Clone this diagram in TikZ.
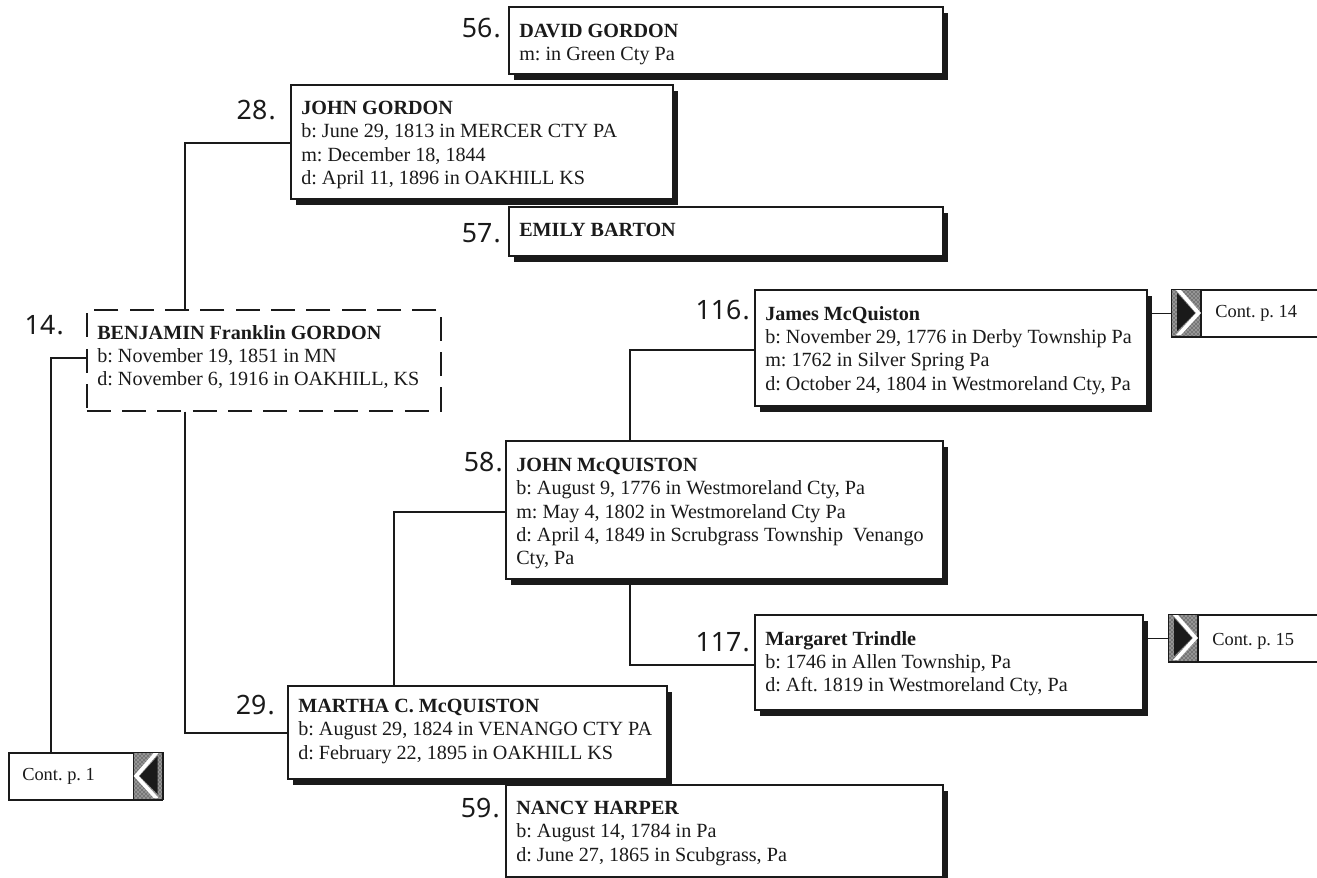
\documentclass[tikz,border=0pt]{standalone}
\usepackage{fontspec}
\setmainfont{Liberation Serif}
\newfontfamily\numfont{Noto Sans}
\newcommand{\nm}[1]{{\bfseries #1}}
\usetikzlibrary{shadows,patterns}
\definecolor{ink}{HTML}{1A1A1A}
\tikzset{
  x=0.75pt,y=-0.75pt,
  wire/.style={draw=ink,line width=1.1pt},
  person/.style={draw=ink,fill=white,line width=1.5pt,anchor=north west,align=left,
    inner xsep=0pt,inner ysep=0pt,
    drop shadow={shadow xshift=4pt,shadow yshift=-4.5pt,fill=ink,opacity=1}},
  dashbox/.style={draw=ink,fill=white,line width=1.2pt,dash pattern=on 18pt off 8.5pt,anchor=north west,
    minimum width=265.5pt,minimum height=75.75pt,inner sep=0pt},
  contbox/.style={draw=ink,fill=white,line width=1.4pt,anchor=north west,inner sep=0pt},
  icon/.style={draw=ink,preaction={fill=ink!60},pattern=crosshatch dots,pattern color=white,line width=1pt,anchor=north west,inner sep=0pt,minimum width=22pt,minimum height=35pt},
  num/.style={font=\numfont\fontsize{20pt}{21pt}\selectfont,text=ink,anchor=east,inner sep=0pt},
  txt/.style={anchor=north west,align=left,inner sep=0pt,text=ink,font=\fontsize{15.1pt}{17.5pt}\selectfont\frenchspacing},
  cont/.style={anchor=west,inner sep=0pt,text=ink,font=\fontsize{13.8pt}{16pt}\selectfont\frenchspacing}
}
\newcommand{\pbox}[7][17]{% offset,name,x0,y0,w,h,text
  \node[person,minimum width=#5*0.75pt,minimum height=#6*0.75pt] (#2) at (#3,#4) {};
  \node[txt] (#2t) at (#3+11,#4+#1) {#7};
}
\newcommand{\gnum}[1]{#1\kern1pt{\bfseries .}}
\begin{document}
\begin{tikzpicture}
\useasboundingbox[fill=white] (0,0) rectangle (1317,878);

\pbox[18]{b56}{508}{6}{434}{67}{\nm{DAVID GORDON}\\m: in Green Cty Pa}
\pbox{b57}{508}{206}{434}{49}{\nm{EMILY BARTON}}
\pbox{b28}{290}{84}{382}{114}{\nm{JOHN GORDON}\\b: June 29, 1813 in MERCER CTY PA\\m: December 18, 1844\\d: April 11, 1896 in OAKHILL KS}
\pbox{b116}{754}{289}{392}{116}{\nm{James McQuiston}\\b: November 29, 1776 in Derby Township Pa\\m: 1762 in Silver Spring Pa\\d: October 24, 1804 in Westmoreland Cty, Pa}
\pbox[18]{b58}{505}{440}{437}{138}{\nm{JOHN McQUISTON}\\b: August 9, 1776 in Westmoreland Cty, Pa\\m: May 4, 1802 in Westmoreland Cty Pa\\d: April 4, 1849 in Scrubgrass Township\ \ Venango\\Cty, Pa}
\pbox{b117}{754}{614}{388}{95}{\nm{Margaret Trindle}\\b: 1746 in Allen Township, Pa\\d: Aft. 1819 in Westmoreland Cty, Pa}
\pbox[14]{b29}{287}{685}{379}{93}{\nm{MARTHA C. McQUISTON}\\b: August 29, 1824 in VENANGO CTY PA\\d: February 22, 1895 in OAKHILL KS}
\pbox{b59}{505}{784}{437}{92}{\nm{NANCY HARPER}\\b: August 14, 1784 in Pa\\d: June 27, 1865 in Scubgrass, Pa}

\node[dashbox] (b14) at (86,309) {};
\node[txt] (b14t) at (97,325) {\nm{BENJAMIN Franklin GORDON}\\b: November 19, 1851 in MN\\d: November 6, 1916 in OAKHILL, KS};

% continuation boxes
\node[contbox,minimum width=109.5pt,minimum height=35pt] (c14) at (1171,289) {};
\node[contbox,minimum width=112pt,minimum height=35pt] (c15) at (1168,614) {};
\node[contbox,minimum width=115pt,minimum height=35pt] (c1) at (8,752) {};
\node[icon] (i14) at (1171,289) {};
\node[icon] (i15) at (1168,614) {};
\node[icon] (i1) at (133,752) {};
\fill[white] (i14.north west) ++(5,1) -- ++(5,0) -- ++(20,23) -- ++(-20,22) -- ++(-5,0) -- ++(20,-22) -- cycle;
\fill[ink] (i14.north west) ++(6,4) -- ++(18,20) -- ++(-18,18) -- cycle;
\fill[white] (i15.north west) ++(5,1) -- ++(5,0) -- ++(20,23) -- ++(-20,22) -- ++(-5,0) -- ++(20,-22) -- cycle;
\fill[ink] (i15.north west) ++(6,4) -- ++(18,20) -- ++(-18,18) -- cycle;
\fill[white] (i1.north east) ++(-5,1) -- ++(-5,0) -- ++(-20,23) -- ++(20,22) -- ++(5,0) -- ++(-20,-22) -- cycle;
\fill[ink] (i1.north east) ++(-6,4) -- ++(-18,20) -- ++(18,18) -- cycle;
\node[cont] (c14t) at (1215,313) {Cont. p. 14};
\node[cont] (c15t) at (1212,641) {Cont. p. 15};
\node[cont] (c1t) at (22,776) {Cont. p. 1};

% connectors
\coordinate (j14w) at (b14.west |- 0,358);
\coordinate (j28) at (185,0);
\coordinate (j58) at (394,0);
\coordinate (j116) at (630,0);
\coordinate (j1) at (51,0);
\draw[wire] (j14w) -| (j1 |- c1.north);
\draw[wire] (j28 |- b14.north) |- (b28.west |- 0,143);
\draw[wire] (j28 |- b14.south) |- (b29.west |- 0,733);
\draw[wire] (j58 |- b29.north) |- (b58.west |- 0,512);
\draw[wire] (j116 |- b58.north) |- (b116.west |- 0,350);
\draw[wire] (j116 |- b58.south) |- (b117.west |- 0,665);
\draw[wire] (b116.east |- c14.west) -- (c14.west);
\draw[wire] (b117.east |- c15.west) -- (c15.west);

% generation numbers
\node[num] (n56) at (501,28) {\gnum{56}};
\node[num] (n28) at (276,110) {\gnum{28}};
\node[num] (n57) at (501,233) {\gnum{57}};
\node[num] (n14) at (64,325) {\gnum{14}};
\node[num] (n116) at (750,310) {\gnum{116}};
\node[num] (n58) at (503,462) {\gnum{58}};
\node[num] (n117) at (750,642) {\gnum{117}};
\node[num] (n29) at (275,705) {\gnum{29}};
\node[num] (n59) at (500,808) {\gnum{59}};
\end{tikzpicture}
\end{document}
